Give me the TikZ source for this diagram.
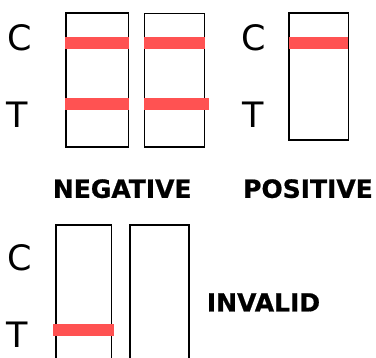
\documentclass[tikz,border=0pt]{standalone}
\usepackage{fontspec}
\setmainfont{DejaVu Sans}
\newfontfamily\heavyfont[FakeBold=0.8]{DejaVu Sans Bold}
\definecolor{band}{RGB}{255,82,82}
\begin{document}
\begin{tikzpicture}[x=1pt,y=-1pt,
  strip/.style={draw=black,line width=1.6pt,fill=none},
  bandline/.style={draw=band,line width=12pt},
  letter/.style={anchor=base,inner sep=0pt,font=\fontsize{35}{35}\selectfont},
  result/.style={anchor=base,inner sep=0pt,font=\fontsize{25}{25}\heavyfont}]
\useasboundingbox (0,0) rectangle (376,358);
% strips
\draw[strip] (65.7,13.3) rectangle (128.3,147.3);
\draw[strip,line width=1.3pt] (144.7,13.3) rectangle (204.3,147);
\draw[strip] (289,13.3) rectangle (348.3,140.3);
\draw[strip] (56,225.3) rectangle (111.3,370);
\draw[strip] (130,225.3) rectangle (189,370);
% bands
\draw[bandline] (65,42.8) -- (129.3,42.8);
\draw[bandline] (144,42.8) -- (204.7,42.8);
\draw[bandline] (65,103.7) -- (129.3,103.7);
\draw[bandline] (144,103.7) -- (209,103.7);
\draw[bandline] (289,42.8) -- (348.3,42.8);
\draw[bandline] (53.3,330) -- (114,330);
% letters
\node[letter] (c1) at (20,50.5) {C};
\node[letter] (t1) at (17.5,127.5) {T};
\node[letter] (c2) at (253.5,50.5) {C};
\node[letter] (t2) at (253.5,127.3) {T};
\node[letter] (c3) at (20,270.5) {C};
\node[letter] (t3) at (17.5,347.3) {T};
% results
\node[result] (neg) at (122.2,197.8) {NEGATIVE};
\node[result] (pos) at (308,197.8) {POSITIVE};
\node[result] (inv) at (263.5,311.5) {INVALID};
\end{tikzpicture}
\end{document}
